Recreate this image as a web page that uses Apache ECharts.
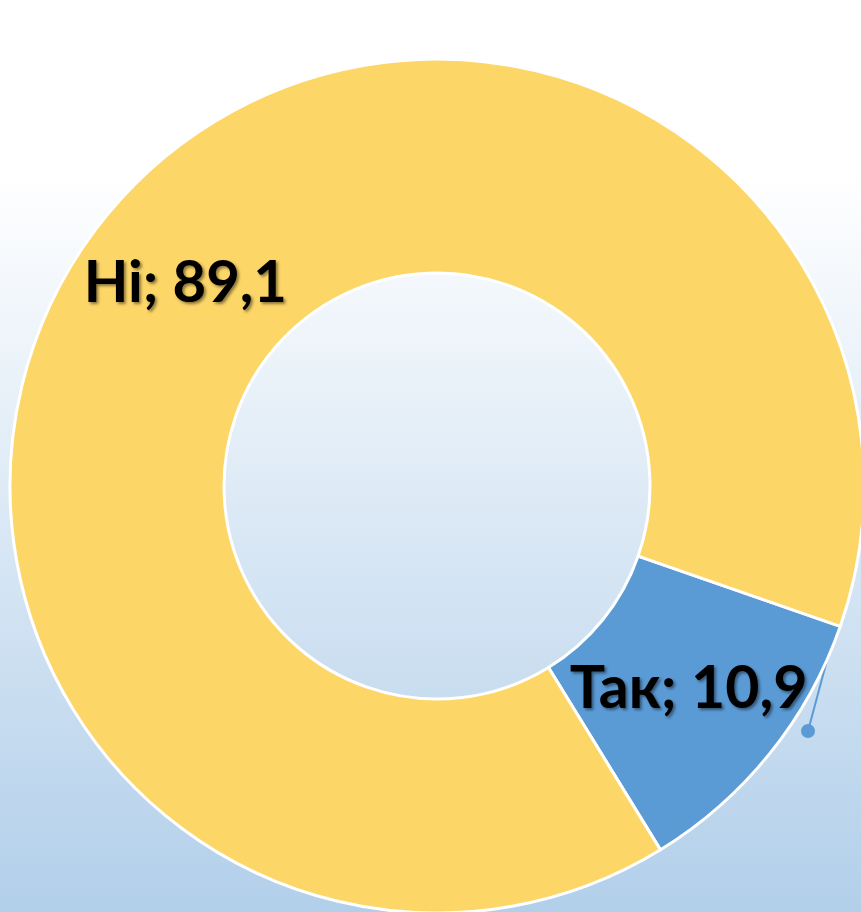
<!DOCTYPE html>
<html>
<head>
<meta charset="utf-8">
<style>
  html, body { margin: 0; padding: 0; }
  #chart { width: 861px; height: 912px; }
</style>
<script src="https://cdn.jsdelivr.net/npm/echarts@6/dist/echarts.min.js"></script>
</head>
<body>
<div id="chart"></div>
<script>
// дані
var categories = ['Так', 'Ні'];
var values = [10.9, 89.1];
var colors = ['#5b9bd5', '#fcd667'];
var labelSizes = [59, 58];

var chart = echarts.init(document.getElementById('chart'));

chart.setOption({
  backgroundColor: new echarts.graphic.LinearGradient(0, 0, 0, 1, [
    { offset: 0, color: '#ffffff' },
    { offset: 0.19, color: '#ffffff' },
    { offset: 1, color: '#b2cfea' }
  ]),
  animation: false,
  series: [
    {
      type: 'pie',
      center: [437, 486],
      radius: [213, 427],
      startAngle: -19.2,
      clockwise: true,
      itemStyle: {
        borderColor: '#ffffff',
        borderWidth: 3
      },
      label: {
        show: true,
        position: 'inside',
        color: '#000',
        fontFamily: 'Lato',
        fontWeight: 'bold',
        textShadowColor: 'rgba(0,0,0,0.45)',
        textShadowBlur: 3,
        textShadowOffsetX: 2,
        textShadowOffsetY: 2,
        formatter: function (p) {
          return p.name + '; ' + String(p.value).replace('.', ',');
        }
      },
      labelLine: { show: false },
      data: categories.map(function (name, i) {
        return {
          name: name,
          value: values[i],
          itemStyle: { color: colors[i] },
          label: { fontSize: labelSizes[i] }
        };
      })
    }
  ],
  // лінія-виноска як у вихідній діаграмі
  graphic: [
    {
      type: 'line',
      shape: { x1: 808, y1: 731, x2: 866, y2: 515 },
      style: { stroke: '#5b9bd5', lineWidth: 2 }
    },
    {
      type: 'circle',
      shape: { cx: 808, cy: 731, r: 7 },
      style: { fill: '#5b9bd5' }
    }
  ]
});
</script>
</body>
</html>
